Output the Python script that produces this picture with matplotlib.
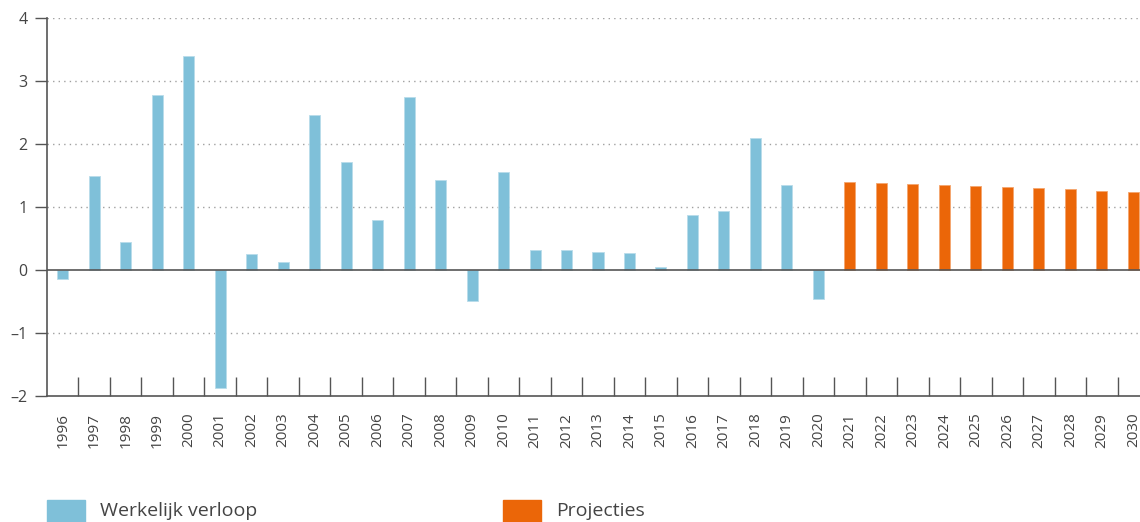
import matplotlib
matplotlib.use("Agg")
import matplotlib.pyplot as plt
from matplotlib.patches import Rectangle

plt.rcParams["font.family"] = ["Open Sans", "DejaVu Sans"]

# data
years = [str(y) for y in range(1996, 2031)]
actual = [-0.15, 1.49, 0.44, 2.78, 3.40, -1.87, 0.25, 0.12, 2.46, 1.72,
          0.79, 2.74, 1.43, -0.49, 1.55, 0.31, 0.31, 0.28, 0.27, 0.04,
          0.87, 0.93, 2.10, 1.35, -0.46]
projected = [1.40, 1.38, 1.37, 1.35, 1.33, 1.31, 1.30, 1.28, 1.26, 1.24]
y_ticks = [-2, -1, 0, 1, 2, 3, 4]
legend_labels = ["Werkelijk verloop", "Projecties"]

BLUE = "#7fc0d9"
ORANGE = "#eb6608"
AXIS = "#555555"

W, H = 1140, 522
fig = plt.figure(figsize=(W / 100, H / 100), dpi=100)
# right edge lies past the figure: the original is cropped on the right
ax = fig.add_axes([47 / W, 126 / H, (1149 - 47) / W, (396 - 18) / H])

n_act = len(actual)
x_act = list(range(n_act))
x_proj = list(range(n_act, n_act + len(projected)))

ax.bar(x_act, actual, width=0.35, color=BLUE, edgecolor="#b9dcea", linewidth=0.6, zorder=3)
ax.bar(x_proj, projected, width=0.35, color=ORANGE, edgecolor="#f5a66e", linewidth=0.6, zorder=3)

ax.set_xlim(-0.5, len(years) - 0.5)
ax.set_ylim(-2, 4)

# grid: dotted lines, solid zero line
for y in y_ticks:
    if y == 0:
        ax.axhline(0, color=AXIS, lw=1.2, zorder=4)
    elif y > -2:
        ax.axhline(y, color="#a0a0a0", lw=1.0, ls=(0, (1, 3)), zorder=1)

ax.set_yticks(y_ticks)
ax.set_yticklabels([str(v).replace("-", "\u2013") for v in y_ticks])
ax.tick_params(axis="y", direction="out", length=9, width=1, color=AXIS,
               labelsize=11.5, labelcolor="#444444", pad=5)

# x: labels at centers, ticks at category boundaries
ax.set_xticks(range(len(years)))
ax.set_xticklabels(years, rotation=90)
ax.tick_params(axis="x", which="major", length=0, labelsize=11,
               labelcolor="#444444", pad=12)
ax.set_xticks([i + 0.5 for i in range(len(years) - 1)], minor=True)
ax.tick_params(axis="x", which="minor", direction="in", length=14, width=1, color=AXIS)

for side in ["top", "right"]:
    ax.spines[side].set_visible(False)
for side in ["left", "bottom"]:
    ax.spines[side].set_color(AXIS)
    ax.spines[side].set_linewidth(1.2)

# legend drawn in figure coordinates
for x0, col, lab in [(47, BLUE, legend_labels[0]), (503, ORANGE, legend_labels[1])]:
    fig.patches.append(Rectangle((x0 / W, -4 / H), 38 / W, 26 / H,
                                 transform=fig.transFigure, color=col))
    fig.text((x0 + 53) / W, 11 / H, lab, fontsize=14, color="#444444",
             va="center", ha="left")

fig.savefig("out.png", dpi=100)
